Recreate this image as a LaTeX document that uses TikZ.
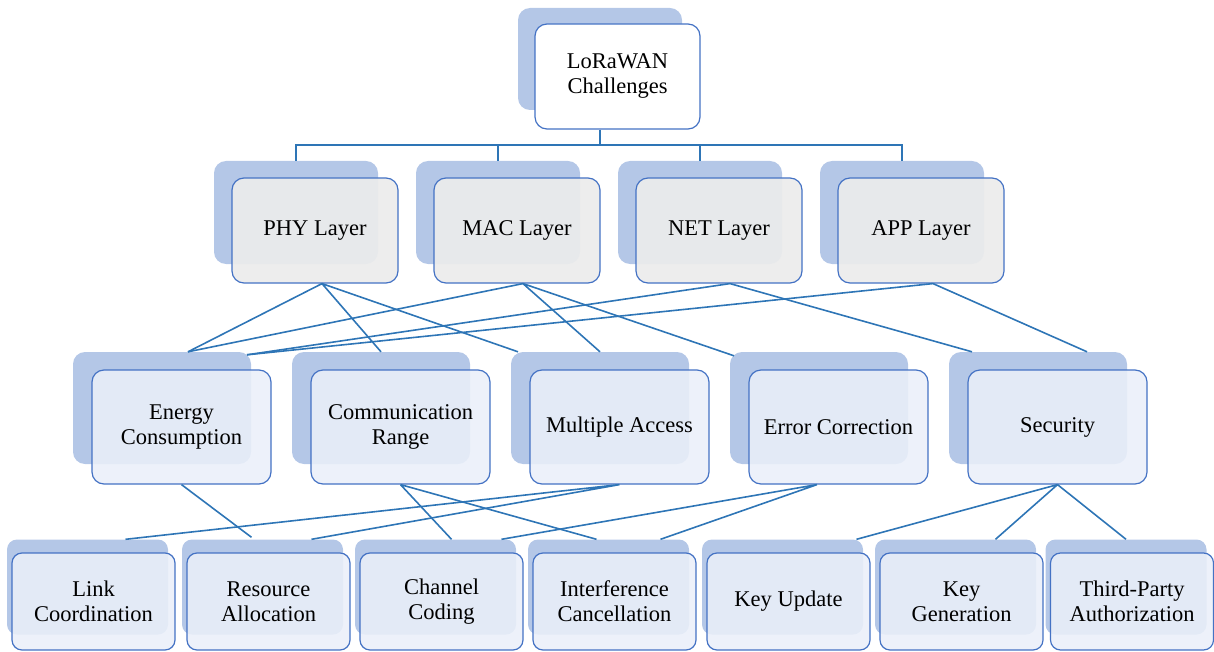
\documentclass[tikz,border=0pt]{standalone}
\usepackage{fontspec}
\setmainfont{Liberation Serif}
\definecolor{edgeblue}{HTML}{4472C4}
\definecolor{linkblue}{HTML}{2E75B6}
\definecolor{shadeblue}{HTML}{B4C7E7}
\definecolor{greyfill}{HTML}{ECECEC}
\definecolor{paleblue}{HTML}{EAEFF9}

\begin{document}
\begin{tikzpicture}[x=1pt, y=-1pt,
    every node/.style={font=\fontsize{22.5}{25}\selectfont, align=center, inner sep=0pt},
    backbox/.style={fill=shadeblue, rounded corners=12pt},
    frontbox/.style={draw=edgeblue, line width=1.2pt, rounded corners=12pt, text opacity=1},
    topbox/.style={frontbox, fill=white, minimum width=165pt, minimum height=105pt},
    layerbox/.style={frontbox, fill=greyfill, fill opacity=0.92, minimum width=166pt, minimum height=105pt},
    itembox/.style={frontbox, fill=paleblue, fill opacity=0.88, minimum width=179pt, minimum height=114pt},
    leafbox/.style={frontbox, fill=paleblue, fill opacity=0.88, rounded corners=10pt, minimum width=163pt, minimum height=97pt},
    link/.style={draw=linkblue, line width=1.6pt}]
\useasboundingbox (0,0) rectangle (1214,652);

\node[backbox, minimum width=164pt, minimum height=102pt] (root-b) at (600,59) {};
\node[topbox] (root) at (617.5,76.5) {LoRaWAN\\Challenges};

\foreach \n/\x/\t in {phy/315/PHY Layer, mac/517/MAC Layer, net/719/NET Layer, app/921/APP Layer} {
    \node[backbox, minimum width=164pt, minimum height=103pt] (\n-b) at (\x-19,212.5) {};
    \node[layerbox] (\n) at (\x,230.5) {\t};
}

\foreach \n/\x/\t in {energy/181.5/{Energy\\Consumption}, range/400.5/{Communication\\Range},
    access/619.5/Multiple Access, errcorr/838.5/Error Correction, security/1057.5/Security} {
    \node[backbox, minimum width=178pt, minimum height=112pt] (\n-b) at (\x-19.5,408) {};
    \node[itembox] (\n) at (\x,427) {\t};
}

\foreach \n/\x/\t in {linkco/93.5/{Link\\Coordination}, resalloc/268.5/{Resource\\Allocation},
    chcoding/441.5/{Channel\\Coding}, intcancel/614.5/{Interference\\Cancellation},
    keyupd/788.5/Key Update, keygen/961.5/{Key\\Generation}, thirdparty/1132/{Third-Party\\Authorization}} {
    \node[backbox, rounded corners=10pt, minimum width=161pt, minimum height=95pt] (\n-b) at (\x-6,587) {};
    \node[leafbox] (\n) at (\x,601.5) {\t};
}

\coordinate (bus) at (600,145);
\draw[link] (root.south -| root-b) -- (root-b |- bus);
\draw[link] (phy-b.north) |- (bus) -| (app-b.north);
\draw[link] (mac-b.north) -- (mac-b.north |- bus);
\draw[link] (net-b.north) -- (net-b.north |- bus);

\draw[link] ([xshift=7pt]phy.south) -- ([xshift=26pt]energy-b.north)
    ([xshift=7pt]phy.south) -- (range-b.north)
    ([xshift=7pt]phy.south) -- ([xshift=-82pt]access-b.north);
\draw[link] ([xshift=6pt]mac.south) -- ([xshift=26pt]energy-b.north)
    ([xshift=6pt]mac.south) -- (access-b.north)
    ([xshift=6pt]mac.south) -- ([xshift=-85pt,yshift=-4pt]errcorr-b.north);
\draw[link] ([xshift=11pt]net.south) -- ([xshift=85pt,yshift=-3pt]energy-b.north)
    ([xshift=11pt]net.south) -- ([xshift=-66pt]security-b.north);
\draw[link] ([xshift=12pt]app.south) -- ([xshift=85pt,yshift=-3pt]energy-b.north)
    ([xshift=12pt]app.south) -- ([xshift=49pt]security-b.north);

\draw[link] (energy.south) -- ([xshift=-11pt,yshift=2pt]resalloc-b.north);
\draw[link] (range.south) -- ([xshift=16pt]chcoding-b.north)
    (range.south) -- ([xshift=-12pt]intcancel-b.north);
\draw[link] (access.south) -- ([xshift=38pt]linkco-b.north)
    (access.south) -- ([xshift=49pt]resalloc-b.north);
\draw[link] ([xshift=-21.5pt]errcorr.south) -- ([xshift=66pt]chcoding-b.north)
    ([xshift=-21.5pt]errcorr.south) -- ([xshift=52pt]intcancel-b.north);
\draw[link] (security.south) -- ([xshift=74pt]keyupd-b.north)
    (security.south) -- ([xshift=40pt]keygen-b.north)
    (security.south) -- (thirdparty-b.north);
\end{tikzpicture}
\end{document}
